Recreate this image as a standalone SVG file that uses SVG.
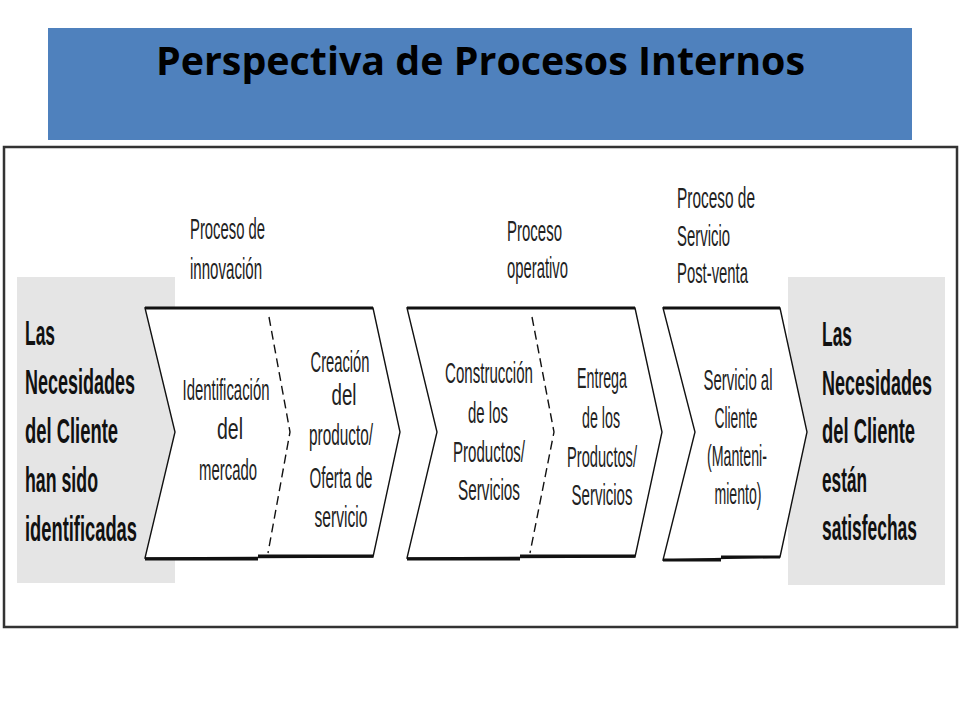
<svg xmlns="http://www.w3.org/2000/svg" width="960" height="720" viewBox="0 0 960 720">
<style>
.lbl{font-family:"Liberation Sans Narrow","Liberation Sans",Arial,sans-serif;font-size:29px;fill:#222;}
.mid{text-anchor:middle;}
.big{font-family:"Liberation Sans Narrow","Liberation Sans",Arial,sans-serif;font-size:35px;font-weight:bold;fill:#111;}
.chev{fill:#fff;stroke:#111;stroke-width:1.4;stroke-linejoin:miter;}
.edge{stroke:#111;stroke-width:3;fill:none;}
.dash{stroke:#111;stroke-width:1.4;fill:none;stroke-dasharray:9 5;}
.gray{fill:#e5e5e5;}
</style>
<rect width="960" height="720" fill="#fff"/>
<g id="title">
<rect x="48" y="28" width="864" height="112" fill="#4f81bd"/>
<text x="156" y="75" font-family="'Open Sans','Liberation Sans',Arial,sans-serif" font-size="40" font-weight="bold" fill="#000" textLength="649" lengthAdjust="spacingAndGlyphs">Perspectiva de Procesos Internos</text>
</g>
<rect id="frame" x="4" y="147" width="953" height="480" fill="none" stroke="#333" stroke-width="2.5"/>
<g id="start">
<rect class="gray" x="17" y="277" width="158" height="306"/>
<text class="big" x="25" y="345" textLength="30" lengthAdjust="spacingAndGlyphs">Las</text>
<text class="big" x="25" y="394" textLength="110" lengthAdjust="spacingAndGlyphs">Necesidades</text>
<text class="big" x="25" y="443" textLength="93" lengthAdjust="spacingAndGlyphs">del Cliente</text>
<text class="big" x="25" y="492" textLength="73" lengthAdjust="spacingAndGlyphs">han sido</text>
<text class="big" x="25" y="541" textLength="112" lengthAdjust="spacingAndGlyphs">identificadas</text>
</g>
<g id="end">
<rect class="gray" x="788" y="277" width="157" height="308"/>
<text class="big" x="822" y="346" textLength="30" lengthAdjust="spacingAndGlyphs">Las</text>
<text class="big" x="822" y="395" textLength="110" lengthAdjust="spacingAndGlyphs">Necesidades</text>
<text class="big" x="822" y="443" textLength="93" lengthAdjust="spacingAndGlyphs">del Cliente</text>
<text class="big" x="822" y="492" textLength="45" lengthAdjust="spacingAndGlyphs">están</text>
<text class="big" x="822" y="540" textLength="95" lengthAdjust="spacingAndGlyphs">satisfechas</text>
</g>
<g id="innovacion">
<polygon class="chev" points="145,308 373,308 400,432 373,557 145,558 175,432"/>
<line class="edge" x1="145" y1="308" x2="373" y2="308"/>
<line class="edge" x1="145" y1="559" x2="258" y2="559"/>
<line class="edge" x1="258" y1="556" x2="373" y2="556"/>
<polyline class="dash" points="269,317 290,432 268,553"/>
<text class="lbl" x="190" y="239" textLength="75" lengthAdjust="spacingAndGlyphs">Proceso de</text>
<text class="lbl" x="190" y="279" textLength="72" lengthAdjust="spacingAndGlyphs">innovación</text>
<text class="lbl mid" x="226" y="400" textLength="87" lengthAdjust="spacingAndGlyphs">Identificación</text>
<text class="lbl mid" x="230" y="439" textLength="26" lengthAdjust="spacingAndGlyphs">del</text>
<text class="lbl mid" x="228" y="480" textLength="58" lengthAdjust="spacingAndGlyphs">mercado</text>
<text class="lbl mid" x="340" y="372" textLength="59" lengthAdjust="spacingAndGlyphs">Creación</text>
<text class="lbl mid" x="344" y="405" textLength="25" lengthAdjust="spacingAndGlyphs">del</text>
<text class="lbl mid" x="341" y="445" textLength="64" lengthAdjust="spacingAndGlyphs">producto/</text>
<text class="lbl mid" x="341" y="488" textLength="63" lengthAdjust="spacingAndGlyphs">Oferta de</text>
<text class="lbl mid" x="341" y="527" textLength="53" lengthAdjust="spacingAndGlyphs">servicio</text>
</g>
<g id="operativo">
<polygon class="chev" points="407,308 635,308 662,432 635,557 407,558 437,432"/>
<line class="edge" x1="407" y1="308" x2="635" y2="308"/>
<line class="edge" x1="407" y1="559" x2="520" y2="559"/>
<line class="edge" x1="520" y1="556" x2="635" y2="556"/>
<polyline class="dash" points="532,317 554,432 530,553"/>
<text class="lbl" x="507" y="241" textLength="55" lengthAdjust="spacingAndGlyphs">Proceso</text>
<text class="lbl" x="507" y="278" textLength="61" lengthAdjust="spacingAndGlyphs">operativo</text>
<text class="lbl mid" x="489" y="383" textLength="88" lengthAdjust="spacingAndGlyphs">Construcción</text>
<text class="lbl mid" x="488" y="423" textLength="40" lengthAdjust="spacingAndGlyphs">de los</text>
<text class="lbl mid" x="489" y="462" textLength="72" lengthAdjust="spacingAndGlyphs">Productos/</text>
<text class="lbl mid" x="489" y="500" textLength="62" lengthAdjust="spacingAndGlyphs">Servicios</text>
<text class="lbl mid" x="602" y="388" textLength="50" lengthAdjust="spacingAndGlyphs">Entrega</text>
<text class="lbl mid" x="601" y="428" textLength="38" lengthAdjust="spacingAndGlyphs">de los</text>
<text class="lbl mid" x="602" y="467" textLength="70" lengthAdjust="spacingAndGlyphs">Productos/</text>
<text class="lbl mid" x="602" y="505" textLength="61" lengthAdjust="spacingAndGlyphs">Servicios</text>
</g>
<g id="postventa">
<polygon class="chev" points="663,308 780,308 807,432 780,557 663,560 695,432"/>
<line class="edge" x1="663" y1="308" x2="780" y2="308"/>
<line class="edge" x1="663" y1="560" x2="721" y2="560"/>
<line class="edge" x1="721" y1="557" x2="780" y2="557"/>
<text class="lbl" x="677" y="208" textLength="78" lengthAdjust="spacingAndGlyphs">Proceso  de</text>
<text class="lbl" x="677" y="246" textLength="53" lengthAdjust="spacingAndGlyphs">Servicio</text>
<text class="lbl" x="677" y="283" textLength="71" lengthAdjust="spacingAndGlyphs">Post-venta</text>
<text class="lbl mid" x="738" y="390" textLength="69" lengthAdjust="spacingAndGlyphs">Servicio al</text>
<text class="lbl mid" x="736" y="428" textLength="43" lengthAdjust="spacingAndGlyphs">Cliente</text>
<text class="lbl mid" x="737" y="466" textLength="60" lengthAdjust="spacingAndGlyphs">(Manteni-</text>
<text class="lbl mid" x="738" y="504" textLength="47" lengthAdjust="spacingAndGlyphs">miento)</text>
</g>
<g id="connectors"></g>
</svg>
